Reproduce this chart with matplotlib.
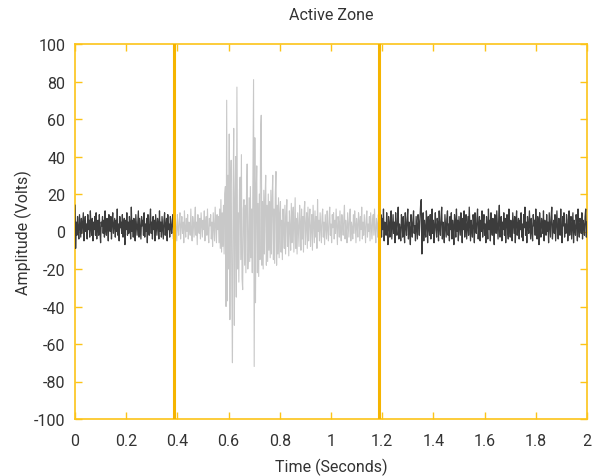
import numpy as np
import matplotlib
matplotlib.use("Agg")
import matplotlib.pyplot as plt

# ---- data ----
zone_start = 0.3875   # seconds
zone_end = 1.1875     # seconds
t_end = 2.0

quiet_before = [
    14, -9, 5, -2, 8, 1, -4, 9, 3, -3, 7, -1, 5, 10, -5, 3, 8, 0, 4, -4,
    9, 1, 6, -3, 11, 2, -2, 7, -5, 5, 1, 8, -2, 10, -4, 4, 6, -2, 9, 0,
    -6, 5, 3, 8, -1, 6, -3, 11, 1, -2, 7, 4, -5, 9, 2, 0, 8, -4, 5, 10,
    -1, 3, 7, -3, 6, 0, 12, -2, 4, -5, 8, 2, 5, -1, 9, -3, 3, 7, -7, 6,
    1, 10, -2, 5, -1, 8, 4, -4, 13, 0, 6, -3, 7, 2, -5, 9, 3, -2, 5, 11,
    -3, 7, 1, -4, 8, 3, 6, -2, 10, -3, 4, 0, 7, -6, 9, 2, -2, 6, 12, -1,
    5, -4, 8, 1, 6, -5, 9, 3, -2, 7, 4, -4, 11, 0, 5, -3, 8, 2, -4, 6,
    10, -2, 3, 7, -5, 9, 1, 4, -3, 8, 2, -1, 6, 9, -4, 3,
]

active_zone = [
    # 0.3875 - 0.5575
    4, -3, 7, 1, -5, 9, 2, -2, 6, 10, -4, 3, 8, -1, 5, -6, 11, 2, -3, 7,
    0, 9, -4, 5, 3, -2, 12, 1, -5, 8, 4, -3, 6, 13, -2, 5, -7, 9, 2, -1,
    7, -4, 10, 3, -3, 6, 1, 11, -5, 4, 8, -2, 12, 0, -6, 7, 3, 9, -4, 5,
    -8, 10, 2, -5, 13, 4, -6, 9, 1,
    # 0.56 - 0.795 (burst)
    8, -6, 12, -9, 17, -11, 10, -8, 14, -12, 20,
    24, -40, 70, -37, 30, -20, 52, -47, 25, 38, -30, -70, 20, 55, -50, 15, 40, -35, 77, -20,
    10, -27, 22, 29, -15, 41, -25, -31, 12, 17, -18, 14, -22, 20, 36, -20, -12, 18, -16, 24,
    -14, 12, -22, 28, 81, -72, 50, -38, 18, 35, -22, 15, -24, 20, -15, 54, 62, -18, 16, -20,
    22, -12, 18, 30, -18, 14, -16, 20, -10, 16, -14, 22, -12, 18, 30, -15, 12, -17, 20, 32,
    -18, 14, -12, 18,
    # 0.7975 - 0.95
    -14, 10, 16, -11, 6, -15, 12, 3, -9, 14, -12, 8, 17, -8, 5, -13, 11, 2, -10, 15,
    -6, 9, 13, -11, 4, 18, -9, 7, -12, 10, 1, -8, 14, 5, -10, 12, -4, 8, -11, 11,
    16, -7, 3, 10, -9, 13, -5, 6, 12, -8, 2, 9, -10, 14, 4, -6, 11, -3, 8, -9,
    17, 0,
    # 0.9525 - 1.1875
    6, -5, 10, 2, -6, 8, 12, -3, 5, -7, 9, 3, -4, 11, 1, -5, 7, 13, -2, 4,
    -6, 9, 2, 10, -4, 6, -1, 12, 3, -7, 8, 5, -3, 11, 0, -5, 9, 4, -2, 7,
    14, -4, 6, 1, -6, 10, 3, -3, 8, 12, -5, 5, 2, -4, 9, -1, 11, 4, -6, 7,
    3, -3, 10, 6, -5, 8, 1, 13, -4, 5, -2, 9, 2, -6, 7, 11, -3, 4, 0, 8,
    -5, 10, 3, -4, 6, 9, -2, 12, 1, -6, 7, 4, -3, 9, 2,
]

quiet_after = [
    11, -6, 4, 9, -3, 7, 1, 12, -5, 5, 3, -2, 10, 0, -7, 8, 4, -3, 6, 11,
    -4, 3, 9, -1, 5, -6, 10, 2, -2, 7, 13, -4, 4, 1, -5, 9, 6, -3, 8, 0,
    -6, 10, 3, -2, 7, 12, -4, 5, 1, -7, 9, 4, -3, 6, 11, -1, 3, -5, 8, 2,
    -4, 9, 5, -2, 7, 14, 17, -12, 3, 10, -5, 6, 1, -3, 11, 4, -6, 8, 2, -2,
    9, -4, 5, 12, -1, 6, -6, 3, 10, 1, -3, 7, 4, -5, 11, 2, -2, 8, 13, -4,
    5, 0, -6, 9, 3, -3, 7, 11, -2, 4, -5, 8, 1, 10, -4, 6, 2, -7, 9, 5,
    -3, 12, 0, 6, -5, 8, 3, -2, 10, 4, -6, 7, 1, 11, -3, 5, 9, -4, 2, 8,
    -2, 13, 4, -5, 6, 1, -3, 9, 5, -6, 10, 2, -1, 7, 12, -4, 3, 8, -5, 6,
    0, 11, -3, 5, 9, -2, 4, -6, 8, 3, -4, 12, 1, 6, -5, 10, 2, -2, 7, 4,
    -7, 9, 5, -1, 11, 3, -4, 6, 14, -3, 2, 8, -5, 5, 1, 10, -2, 7, -6, 4,
    9, 0, -4, 12, 3, -3, 6, 2, -5, 10, 4, -1, 8, -6, 5, 11, -2, 3, 7, -4,
    6, 1, 10, -3, 4, -5, 9, 2, 13, -2, 5, -6, 8, 3, -1, 11, 4, -4, 7, 0,
    -5, 9, 3, 6, -2, 12, 1, -4, 8, 5, -7, 10, 2, -3, 7, 4, -1, 11, -5, 6,
    3, -2, 9, 0, 5, -6, 10, 4, -3, 8, 13, -4, 2, 6, -1, 9, -5, 3, 11, 1,
    -4, 7, 5, -2, 12, 0, -6, 8, 3, 10, -3, 4, -1, 9, 6, -5, 2, 11, -2, 5,
    8, -4, 3, 10, -6, 6, 1, -2, 9, 4, -5, 12, 2, -3, 7, 5, -1, 10, -4, 6,
    3, -2, 8, 12, -3, 5,
]

x_ticks = [0, 0.2, 0.4, 0.6, 0.8, 1, 1.2, 1.4, 1.6, 1.8, 2]
x_tick_labels = ["0", "0.2", "0.4", "0.6", "0.8", "1", "1.2", "1.4", "1.6", "1.8", "2"]
y_ticks = [-100, -80, -60, -40, -20, 0, 20, 40, 60, 80, 100]

# ---- styling ----
plt.rcParams['font.family'] = ['Roboto', 'DejaVu Sans']
plt.rcParams['axes.unicode_minus'] = False
DARK = '#3c3c3c'
LIGHT = '#c8c8c8'
GOLD = '#fcc419'
ZONE = '#f5b400'
TEXT = '#333333'

fig = plt.figure(figsize=(5.97, 4.77), dpi=100)
ax = fig.add_axes([75 / 597, 1 - 420 / 477, 512 / 597, 375 / 477])

t1 = np.linspace(0, zone_start, len(quiet_before))
t2 = np.linspace(zone_start, zone_end, len(active_zone))
t3 = np.linspace(zone_end, t_end, len(quiet_after))

ax.plot(t2, active_zone, color=LIGHT, lw=0.8, zorder=2)
ax.plot(t1, quiet_before, color=DARK, lw=0.9, zorder=3)
ax.plot(t3, quiet_after, color=DARK, lw=0.9, zorder=3)

ax.axvline(zone_start, color=ZONE, lw=2.2, zorder=4)
ax.axvline(zone_end, color=ZONE, lw=2.2, zorder=4)

ax.set_xlim(0, 2)
ax.set_ylim(-100, 100)
ax.set_xticks(x_ticks)
ax.set_xticklabels(x_tick_labels)
ax.set_yticks(y_ticks)

for s in ax.spines.values():
    s.set_color(GOLD)
    s.set_linewidth(1.2)

ax.tick_params(axis='both', which='both', direction='in', length=5, width=1,
               color=GOLD, labelcolor=TEXT, labelsize=11.5,
               top=True, right=True)
ax.tick_params(axis='x', pad=10)
ax.tick_params(axis='y', pad=7)

ax.set_xlabel("Time (Seconds)", fontsize=11.5, color=TEXT, labelpad=7)
ax.set_ylabel("Amplitude (Volts)", fontsize=11.5, color=TEXT, labelpad=1)
ax.set_title("Active Zone", fontsize=11.5, color=TEXT, pad=18)

fig.savefig("out.png", dpi=100)
